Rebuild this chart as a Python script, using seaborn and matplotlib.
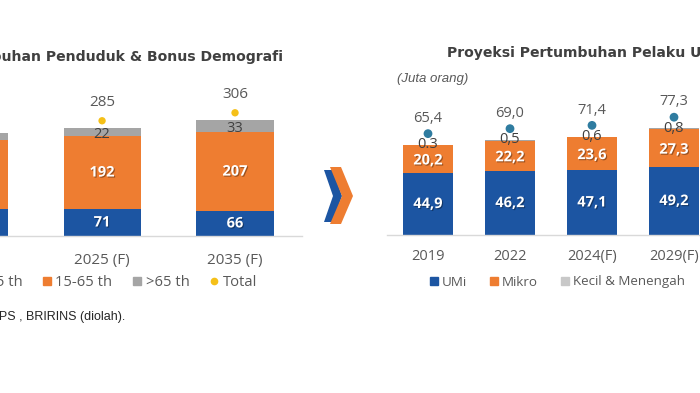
import matplotlib
matplotlib.use("Agg")
import matplotlib.pyplot as plt
import matplotlib.patheffects as pe
import matplotlib.transforms as mtransforms
from matplotlib.lines import Line2D
from matplotlib.patches import Polygon
import seaborn as sns
import numpy as np

# Left chart: population by age group (million)
pop_years = ["2020", "2025 (F)", "2035 (F)"]
pop_young = [70, 71, 66]
pop_work = [183, 192, 207]
pop_old = [17, 22, 33]
pop_total = [270, 285, 306]

# Right chart: UMKM actors (juta orang)
umkm_years = ["2019", "2022", "2024(F)", "2029(F)"]
umi = [44.9, 46.2, 47.1, 49.2]
mikro = [20.2, 22.2, 23.6, 27.3]
kecil = [0.3, 0.5, 0.6, 0.8]
kecil_labels = ["0.3", "0,5", "0,6", "0,8"]
umkm_total = [65.4, 69.0, 71.4, 77.3]

BLUE = "#1c55a2"
ORANGE = "#ee7d31"
GREY = "#a5a5a5"
GOLD = "#f5c018"
TEAL = "#2f7ca0"
TXT = "#595959"

sns.set_theme(style="white")
plt.rcParams["font.family"] = ["Open Sans", "DejaVu Sans"]

W, H = 700, 393
fig = plt.figure(figsize=(7, 3.93), dpi=100)


def fx(px):
    return px / W


def fy(py):
    return 1 - py / H


shadow = [pe.withSimplePatchShadow(offset=(0.8, -0.8), shadow_rgbFace="black", alpha=0.35)]


def stacked(ax, cats, series, colors, width):
    bottom = np.zeros(len(cats))
    for vals, col in zip(series, colors):
        sns.barplot(x=cats, y=vals, bottom=bottom, color=col, saturation=1,
                    width=width, ax=ax, linewidth=0)
        bottom = bottom + np.array(vals)
    return bottom


def style_axes(ax, pad):
    sns.despine(ax=ax, left=True)
    ax.spines["bottom"].set_color("#d9d9d9")
    ax.spines["bottom"].set_linewidth(1)
    ax.set_yticks([])
    ax.set_ylabel("")
    ax.tick_params(axis="x", length=0, pad=pad, labelsize=11, labelcolor=TXT)
    ax.patch.set_alpha(0)


def on_canvas(ax, i):
    # the source picture is cropped: bars whose centre falls left of the frame carry no visible labels
    return ax.transData.transform((i, 0))[0] > 0


# ---------- left chart ----------
axl = fig.add_axes([fx(-104), fy(236), 405.5 / W, 133 / H])
stacked(axl, pop_years, [pop_young, pop_work, pop_old], [BLUE, ORANGE, GREY], 0.58)
axl.set_xlim(-0.55, 2.5)
axl.set_ylim(0, 350)
style_axes(axl, 12)
axl.set_xticks([1, 2])
axl.set_xticklabels(pop_years[1:])

for i in range(len(pop_years)):
    if not on_canvas(axl, i):
        continue
    axl.text(i, pop_young[i] / 2, str(pop_young[i]), ha="center", va="center",
             color="white", fontsize=10.5, fontweight="bold", path_effects=shadow)
    axl.text(i, pop_young[i] + pop_work[i] / 2, str(pop_work[i]), ha="center", va="center",
             color="white", fontsize=10.5, fontweight="bold", path_effects=shadow)
    axl.text(i, pop_young[i] + pop_work[i] + pop_old[i] / 2 - 6, str(pop_old[i]),
             ha="center", va="center", color="#404040", fontsize=10.5)
    axl.annotate(str(pop_total[i]), (i, pop_total[i]), xytext=(0, 18),
                 textcoords="offset points", ha="center", va="center",
                 color=TXT, fontsize=11)

dot_off = mtransforms.offset_copy(axl.transData, fig=fig, x=0, y=5, units="points")
sns.scatterplot(x=np.arange(len(pop_years)), y=pop_total, color=GOLD, s=28,
                edgecolor="none", ax=axl, transform=dot_off, legend=False)

fig.text(fx(283), fy(57), "Proyeksi Pertumbuhan Penduduk & Bonus Demografi",
         ha="right", va="center", fontsize=10.1, fontweight="bold",
         color="#404040", family="DejaVu Sans")

hl = [Line2D([], [], ls="", marker="s", ms=6, color=BLUE),
      Line2D([], [], ls="", marker="s", ms=6, color=ORANGE),
      Line2D([], [], ls="", marker="s", ms=6, color=GREY),
      Line2D([], [], ls="", marker="o", ms=4.5, color=GOLD)]
fig.legend(hl, ["<15 th", "15-65 th", ">65 th", "Total"], ncol=4, frameon=False,
           loc="center right", bbox_to_anchor=(fx(257), fy(283)), borderpad=0,
           borderaxespad=0, handlelength=0.7, handletextpad=0.25, columnspacing=1.3,
           fontsize=10.6, labelcolor=TXT)

fig.text(fx(125), fy(317), "Sumber: BPS , BRIRINS (diolah).", ha="right", va="center",
         fontsize=9, color="#262626", family="Liberation Sans")

# ---------- chevron ----------
blue_chev = [(324, 170), (333, 170), (342, 196), (333, 222), (324, 222), (333, 196)]
orange_chev = [(330, 167), (341, 167), (353, 196), (341, 224), (330, 224), (342, 196)]
for pts, col in [(blue_chev, BLUE), (orange_chev, ORANGE)]:
    fig.add_artist(Polygon([(fx(x), fy(y)) for x, y in pts], closed=True,
                           transform=fig.transFigure, color=col, lw=0))

# ---------- right chart ----------
axr = fig.add_axes([fx(387), fy(235), 410 / W, 138 / H])
stacked(axr, umkm_years, [umi, mikro, kecil], [BLUE, ORANGE, GREY], 0.62)
axr.set_xlim(-0.5, 4.5)
axr.set_ylim(0, 100)
style_axes(axr, 10)
axr.tick_params(axis="x", labelsize=10.5)


def comma(v):
    return f"{v:.1f}".replace(".", ",")


for i in range(len(umkm_years)):
    axr.text(i, umi[i] / 2, comma(umi[i]), ha="center", va="center",
             color="white", fontsize=10.5, fontweight="bold", path_effects=shadow)
    axr.text(i, umi[i] + mikro[i] / 2 - 1, comma(mikro[i]), ha="center", va="center",
             color="white", fontsize=10.5, fontweight="bold", path_effects=shadow)
    axr.text(i, umi[i] + mikro[i] + kecil[i], kecil_labels[i], ha="center", va="center",
             color="#404040", fontsize=10.5)

dot_off_r = mtransforms.offset_copy(axr.transData, fig=fig, x=0, y=8, units="points")
sns.scatterplot(x=np.arange(len(umkm_years)), y=umkm_total, color=TEAL, s=40,
                edgecolor="none", ax=axr, transform=dot_off_r, legend=False)
for i, t in enumerate(umkm_total):
    axr.annotate(comma(t), (i, t), xytext=(0, 19), textcoords="offset points",
                 ha="center", va="center", color=TXT, fontsize=10.5)

fig.text(fx(447), fy(53), "Proyeksi Pertumbuhan Pelaku UMKM", ha="left", va="center",
         fontsize=10.1, fontweight="bold", color="#404040", family="DejaVu Sans")
fig.text(fx(397), fy(79), "(Juta orang)", ha="left", va="center", fontsize=9.5,
         style="italic", color=TXT, family="Liberation Sans")

hr = [Line2D([], [], ls="", marker="s", ms=6, color=BLUE),
      Line2D([], [], ls="", marker="s", ms=6, color=ORANGE),
      Line2D([], [], ls="", marker="s", ms=6, color="#c8c8c8")]
fig.legend(hr, ["UMi", "Mikro", "Kecil & Menengah"], ncol=3, frameon=False,
           loc="center left", bbox_to_anchor=(fx(429), fy(282)), borderpad=0,
           borderaxespad=0, handlelength=0.7, handletextpad=0.25, columnspacing=1.7,
           fontsize=9.6, labelcolor=TXT)

fig.savefig("out.png", dpi=100)
